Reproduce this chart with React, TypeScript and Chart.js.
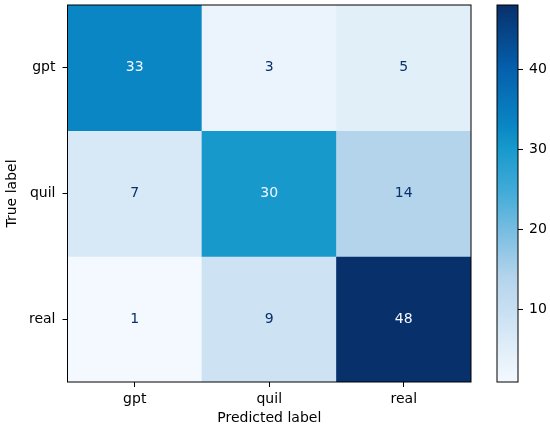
import React, { useEffect, useRef } from 'react';
import { Chart, registerables } from 'chart.js';
Chart.register(...registerables);

// ---- data ----
const trueLabels = ['gpt', 'quil', 'real'];
const predLabels = ['gpt', 'quil', 'real'];
const rowGpt = [33, 3, 5];
const rowQuil = [7, 30, 14];
const rowReal = [1, 9, 48];
const matrix = [rowGpt, rowQuil, rowReal];
const colorbarTicks = [10, 20, 30, 40];
const vmin = 1;
const vmax = 48;
const xTitle = 'Predicted label';
const yTitle = 'True label';

// colormap stops (normalized position, color)
const cmapStops: [number, string][] = [
  [0.0, '#f4f9ff'],
  [0.09, '#e0eef9'],
  [0.19, '#c8dff2'],
  [0.28, '#b3d4ec'],
  [0.4, '#79bde2'],
  [0.5, '#44acd8'],
  [0.62, '#1799cc'],
  [0.68, '#0a86c4'],
  [0.83, '#0560ad'],
  [1.0, '#08306b'],
];

const FONT = { family: '"DejaVu Sans", sans-serif', size: 14 };

function hexToRgb(h: string) {
  const n = parseInt(h.slice(1), 16);
  return [(n >> 16) & 255, (n >> 8) & 255, n & 255];
}
function cmap(t: number) {
  t = Math.max(0, Math.min(1, t));
  for (let i = 1; i < cmapStops.length; i++) {
    const [t1, c1] = cmapStops[i];
    const [t0, c0] = cmapStops[i - 1];
    if (t <= t1) {
      const f = (t - t0) / (t1 - t0);
      const a = hexToRgb(c0);
      const b = hexToRgb(c1);
      const r = a.map((v, k) => Math.round(v + (b[k] - v) * f));
      return `rgb(${r[0]},${r[1]},${r[2]})`;
    }
  }
  return cmapStops[cmapStops.length - 1][1];
}
const colorFor = (v: number) => cmap((v - vmin) / (vmax - vmin));

const framePlugin = {
  id: 'frame',
  afterDraw(chart: any) {
    const { ctx, chartArea: a } = chart;
    ctx.save();
    ctx.strokeStyle = '#000';
    ctx.lineWidth = 1;
    ctx.strokeRect(a.left, a.top, a.right - a.left, a.bottom - a.top);
    ctx.restore();
  },
};

const cellTextPlugin = {
  id: 'cellText',
  afterDatasetsDraw(chart: any) {
    const { ctx } = chart;
    const thresh = (vmin + vmax) / 2;
    ctx.save();
    ctx.font = `${FONT.size}px ${FONT.family}`;
    ctx.textAlign = 'center';
    ctx.textBaseline = 'middle';
    matrix.forEach((row, i) => {
      const meta = chart.getDatasetMeta(i);
      meta.data.forEach((bar: any, j: number) => {
        const p = bar.getProps(['x', 'y', 'base'], true);
        const v = row[j];
        ctx.fillStyle = v > thresh ? cmap(0) : cmap(1);
        ctx.fillText(String(v), p.x, (p.y + p.base) / 2);
      });
    });
    ctx.restore();
  },
};

const noEdgePadding = (s: any) => {
  s.paddingTop = 0;
  s.paddingBottom = 0;
  s.paddingLeft = 0;
  s.paddingRight = 0;
};

export default function App() {
  const mRef = useRef<HTMLCanvasElement>(null);
  const cRef = useRef<HTMLCanvasElement>(null);

  useEffect(() => {
    const tickGrid = {
      display: true,
      offset: false,
      drawOnChartArea: false,
      drawTicks: true,
      tickLength: 5,
      color: '#000',
      tickColor: '#000',
      tickWidth: 1,
    };
    const m = new Chart(mRef.current!, {
      type: 'bar',
      data: {
        labels: predLabels,
        datasets: matrix.map((row, i) => ({
          label: trueLabels[i],
          data: row.map(() => 1),
          backgroundColor: row.map((v) => colorFor(v)),
          borderWidth: 0,
          barPercentage: 1,
          categoryPercentage: 1,
        })),
      },
      options: {
        responsive: false,
        animation: false,
        layout: { padding: { top: 5, right: 9, left: 0, bottom: 0 } },
        plugins: { legend: { display: false }, tooltip: { enabled: false } },
        scales: {
          x: {
            stacked: true,
            grid: tickGrid,
            border: { display: false },
            ticks: { font: FONT, color: '#000', padding: 4, maxRotation: 0 },
            title: { display: true, text: xTitle, font: FONT, color: '#000', padding: { top: 0, bottom: 5 } },
            afterFit: (s: any) => { s.height = 50; noEdgePadding(s); },
          },
          y: {
            stacked: true,
            reverse: true,
            min: 0,
            max: 3,
            grid: tickGrid,
            border: { display: false },
            afterBuildTicks: (s: any) => { s.ticks = trueLabels.map((_, i) => ({ value: i + 0.5 })); },
            ticks: {
              font: FONT,
              color: '#000',
              padding: 7,
              callback: (v: any) => trueLabels[Math.floor(Number(v))],
            },
            title: { display: true, text: yTitle, font: FONT, color: '#000', padding: { top: 4, bottom: 0 } },
            afterFit: (s: any) => { s.width = 67.5; noEdgePadding(s); },
          },
        },
      },
      plugins: [cellTextPlugin, framePlugin],
    } as any);

    const c = new Chart(cRef.current!, {
      type: 'bar',
      data: {
        labels: [''],
        datasets: [
          {
            data: [[vmin, vmax]] as any,
            backgroundColor: (ctx: any) => {
              const ca = ctx.chart.chartArea;
              if (!ca) return cmap(0.5);
              const g = ctx.chart.ctx.createLinearGradient(0, ca.bottom, 0, ca.top);
              cmapStops.forEach(([t, col]) => g.addColorStop(t, col));
              return g;
            },
            borderWidth: 0,
            barPercentage: 1,
            categoryPercentage: 1,
          },
        ],
      },
      options: {
        responsive: false,
        animation: false,
        layout: { padding: { top: 5, right: 0, left: 17, bottom: 50 } },
        plugins: { legend: { display: false }, tooltip: { enabled: false } },
        scales: {
          x: { display: false },
          y: {
            position: 'right',
            min: vmin,
            max: vmax,
            grid: tickGrid,
            border: { display: false },
            afterBuildTicks: (s: any) => { s.ticks = colorbarTicks.map((v) => ({ value: v })); },
            ticks: { font: FONT, color: '#000', padding: 6 },
            afterFit: (s: any) => { s.width = 32; noEdgePadding(s); },
          },
        },
      },
      plugins: [framePlugin],
    } as any);

    return () => {
      m.destroy();
      c.destroy();
    };
  }, []);

  return (
    <div style={{ position: 'fixed', left: 0, top: 0, width: 550, height: 432, background: '#fff' }}>
      <canvas ref={mRef} width={480} height={432} style={{ position: 'absolute', left: 0, top: 0, width: 480, height: 432 }} />
      <canvas ref={cRef} width={70} height={432} style={{ position: 'absolute', left: 480, top: 0, width: 70, height: 432 }} />
    </div>
  );
}
